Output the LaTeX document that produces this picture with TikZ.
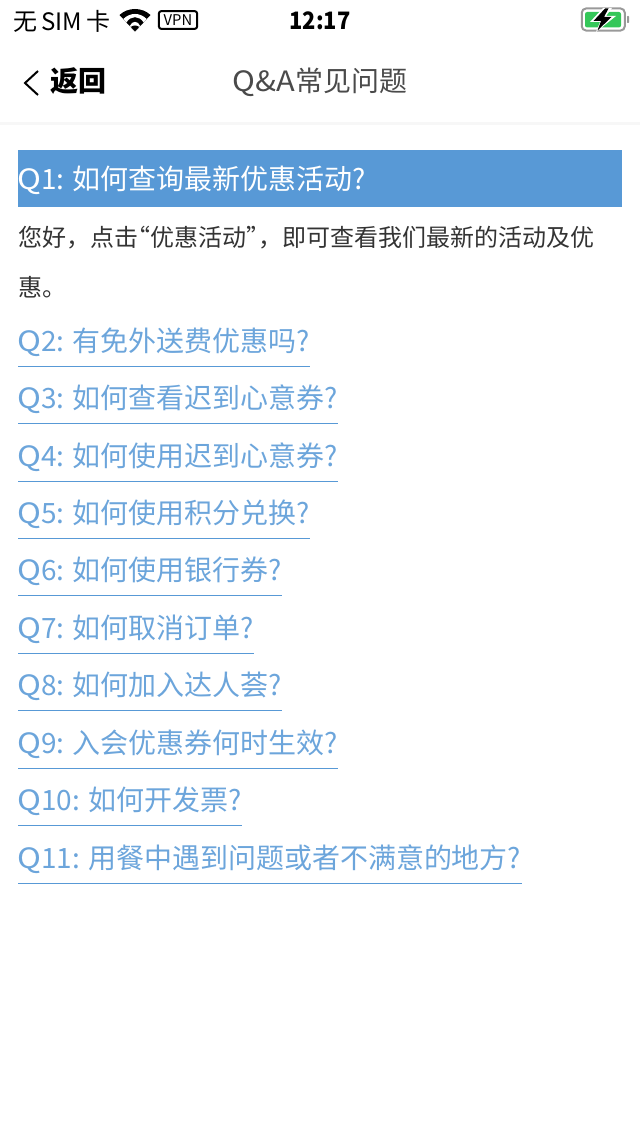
\documentclass[tikz,border=0pt]{standalone}
\usepackage{fontspec}
\usepackage{xcolor}
\setmainfont{Noto Sans CJK SC}
\definecolor{qblue}{HTML}{5899D6}
\definecolor{bodygrey}{HTML}{333333}
\definecolor{titlegrey}{HTML}{4A4A4A}
\definecolor{battgreen}{HTML}{34C759}
\newcommand{\qletter}{\hspace*{-0.8pt}\scalebox{1.15}[1]{Q}}
\tikzset{
    qlink/.style={anchor=south west, inner sep=0pt, minimum height=1.35cm, align=left, text=qblue!88!white, font=\fontsize{19.9pt}{20pt}\selectfont, text height=0.71cm, text depth=0.1cm},
    qline/.style={draw=qblue, line width=0.022cm},
    bodyline/.style={anchor=west, inner sep=0pt, text=bodygrey, font=\fontsize{17.07pt}{18pt}\selectfont},
    statustext/.style={inner sep=0pt, text=black, font=\fontsize{17.07pt}{18pt}\selectfont},
}
\begin{document}
\begin{tikzpicture}[x=0.025cm, y=-0.025cm]
    \useasboundingbox (0, 0) rectangle (640, 1136);
    % status bar
    \node[statustext, anchor=west] (sim) at (13, 21) {无\,SIM\,卡};
    \fill (135, 31.5) -- (119.5, 15) .. controls (128, 7) and (142, 7) .. (150.5, 15) -- cycle;
    \fill[white] (135, 31.5) -- (123.3, 19) .. controls (130, 12.3) and (140, 12.3) .. (146.7, 19) -- cycle;
    \fill (135, 31.5) -- (126.5, 22.5) .. controls (131, 15.5) and (139, 15.5) .. (143.5, 22.5) -- cycle;
    \fill[white] (135, 31.5) -- (129.8, 26) .. controls (132, 20.5) and (138, 20.5) .. (140.2, 26) -- cycle;
    \fill (135, 31.5) -- (130.8, 27) .. controls (133, 25) and (137, 25) .. (139.2, 27) -- cycle;
    \node[draw=black, rounded corners=1.5pt, line width=0.05cm, minimum width=0.95cm, minimum height=0.44cm, inner sep=0pt, font=\fontsize{10.5pt}{11pt}\selectfont] (vpn) at (178, 20) {VPN};
    \node[statustext, font=\fontsize{17.07pt}{18pt}\selectfont\bfseries] (clock) at (320, 21) {\scalebox{0.91}[1]{12:17}};
    \node[draw=black!40, rounded corners=3pt, line width=0.05cm, minimum width=1.075cm, minimum height=0.55cm, inner sep=0pt] (batt) at (603.3, 19.5) {};
    \fill[battgreen, rounded corners=1.5pt] (585, 12) rectangle (621, 27.5);
    \fill[black!40, rounded corners=0.5pt] (627, 16) rectangle (629, 23);
    \fill[white] (603, 8) -- (590, 22) -- (600, 22) -- (596, 32) -- (616, 16) -- (606, 16) -- (612, 8) -- cycle;
    \fill (605, 8.5) -- (593.5, 21) -- (601, 21) -- (597.5, 30.5) -- (611.5, 17) -- (604, 17) -- (608.5, 8.5) -- cycle;
    % navigation bar
    \draw[black, line width=0.05cm] (38, 71) -- (25, 83) -- (38, 95);
    \node[inner sep=0pt, anchor=west, font=\fontsize{19.9pt}{20pt}\selectfont\bfseries, text=black] (back) at (50, 81) {返回};
    \node[inner sep=0pt, text=titlegrey, font=\fontsize{19.9pt}{20pt}\selectfont] (title) at (320, 82) {\scalebox{1.1}[1]{Q\&A}常见问题};
    \fill[black!3] (0, 122.5) rectangle (640, 125);
    % first question, opened
    \node[fill=qblue, anchor=north west, inner sep=0pt, minimum width=15.1cm, minimum height=1.425cm] (q1box) at (18, 150) {};
    \node[anchor=west, inner sep=0pt, text=white, font=\fontsize{19.9pt}{20pt}\selectfont] (q1) at (18, 180) {\qletter 1: 如何查询最新优惠活动?};
    \node[bodyline] (ans1) at (18, 238) {您好，点击\makebox[0.3cm][r]{“}优惠活动\makebox[0.3cm][l]{”}，即可查看我们最新的活动及优};
    \node[bodyline] (ans2) at (18, 287) {惠。};
    % other questions
    \node[qlink, minimum width=7.275cm] (q2) at (18, 366.5) {\qletter 2: 有免外送费优惠吗?};
    \node[qlink, minimum width=7.975cm] (q3) at (18, 423.5) {\qletter 3: 如何查看迟到心意券?};
    \node[qlink, minimum width=7.975cm] (q4) at (18, 481.5) {\qletter 4: 如何使用迟到心意券?};
    \node[qlink, minimum width=7.275cm] (q5) at (18, 538.5) {\qletter 5: 如何使用积分兑换?};
    \node[qlink, minimum width=6.575cm] (q6) at (18, 595.5) {\qletter 6: 如何使用银行券?};
    \node[qlink, minimum width=5.875cm] (q7) at (18, 653.5) {\qletter 7: 如何取消订单?};
    \node[qlink, minimum width=6.575cm] (q8) at (18, 710.5) {\qletter 8: 如何加入达人荟?};
    \node[qlink, minimum width=7.975cm] (q9) at (18, 768.5) {\qletter 9: 入会优惠券何时生效?};
    \node[qlink, minimum width=5.55cm] (q10) at (18, 825.5) {\qletter 10: 如何开发票?};
    \node[qlink, minimum width=12.55cm] (q11) at (18, 883.5) {\qletter 11: 用餐中遇到问题或者不满意的地方?};
    \draw[qline] (q2.south west) -- (q2.south east);
    \draw[qline] (q3.south west) -- (q3.south east);
    \draw[qline] (q4.south west) -- (q4.south east);
    \draw[qline] (q5.south west) -- (q5.south east);
    \draw[qline] (q6.south west) -- (q6.south east);
    \draw[qline] (q7.south west) -- (q7.south east);
    \draw[qline] (q8.south west) -- (q8.south east);
    \draw[qline] (q9.south west) -- (q9.south east);
    \draw[qline] (q10.south west) -- (q10.south east);
    \draw[qline] (q11.south west) -- (q11.south east);
\end{tikzpicture}
\end{document}
